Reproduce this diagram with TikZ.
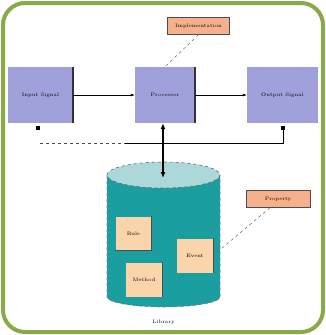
\documentclass[tikz,border=0pt]{standalone}
\usetikzlibrary{arrows.meta}
\definecolor{frame}{RGB}{138,170,72}
\definecolor{lav}{RGB}{160,160,218}
\definecolor{salmon}{RGB}{246,176,140}
\definecolor{teal1}{RGB}{26,158,160}
\definecolor{tealtop}{RGB}{172,216,218}
\definecolor{peach}{RGB}{250,212,170}
\tikzset{
  blockbox/.style={draw=none,fill=lav,minimum width=64pt,minimum height=56pt,font=\tiny,inner sep=1pt},
  note/.style={draw=black!70,fill=salmon,minimum width=62pt,minimum height=17pt,font=\tiny,inner sep=1pt},
  item/.style={draw=none,fill=peach,minimum width=36pt,minimum height=34pt,font=\tiny,inner sep=1pt},
  conn/.style={draw=black,line width=0.6pt,-{Latex[length=4pt]}},
  dashln/.style={draw=black!60,dashed,line width=0.5pt}
}
\begin{document}
\begin{tikzpicture}[x=1pt,y=-1pt]
\useasboundingbox (0,0) rectangle (326,335);
\fill[white] (0,0) rectangle (326,335);
\draw[frame,line width=4pt,rounded corners=22pt] (3,3) rectangle (323,332);
% blocks
\node[blockbox,minimum width=65pt] (in) at (40.5,95) {Input Signal};
\node[blockbox,minimum width=60pt] (proc) at (165,95) {Processor};
\node[blockbox,minimum width=71pt] (out) at (282.5,95) {Output Signal};
\draw[black!80,line width=1.5pt] (in.north east) -- (in.south east);
\draw[black!80,line width=1.5pt] (proc.north east) -- (proc.south east);
% annotation top
\node[note] (impl) at (198.5,26) {Implementation};
\draw[dashln] (impl.south) -- (proc.north);
% arrows
\draw[conn] (in.east) -- (proc.west);
\draw[conn] (proc.east) -- (out.west);
% markers and bus
\coordinate (lm) at (38,128);
\coordinate (rm) at (283,128);
\coordinate (bl) at (40,143);
\coordinate (br) at (283,143);
\fill (lm) ++(-2,-2) rectangle ++(4,4);
\fill (rm) ++(-2,-2) rectangle ++(4,4);
\draw[black!70,dashed,line width=0.8pt] (bl) -- (125,143);
\draw[black,line width=0.8pt] (125,143) -- (br) -- (rm);
% cylinder
\fill[teal1] (107,175) -- (107,297) arc[start angle=180,end angle=0,x radius=56.5,y radius=10] -- (220,175) -- cycle;
\draw[black!50,dashed,line width=0.6pt] (107,175) -- (107,297) arc[start angle=180,end angle=0,x radius=56.5,y radius=10] -- (220,175);
\fill[tealtop] (163.5,175) ellipse[x radius=56.5,y radius=13];
\draw[black!60,dashed,line width=0.6pt] (163.5,175) ellipse[x radius=56.5,y radius=13];
\coordinate (dbtop) at (163,178);
% vertical connector
\draw[black,line width=1.3pt,{Latex[length=6pt,width=5pt]}-{Latex[length=6pt,width=5pt]}] (proc.south -| dbtop) -- (dbtop);
% items
\node[item] (rule) at (133.5,233.5) {Rule};
\node[item] (method) at (144,279.5) {Method};
\node[item] (event) at (195,255.5) {Event};
\draw[black!70,line width=1pt] (rule.north east) -- (rule.south east) -- (rule.south west);
\draw[black!70,line width=1pt] (method.north east) -- (method.south east);
\draw[black!70,line width=1pt] (event.north east) -- (event.south east);
% right annotation
\node[note,minimum width=64pt] (prop) at (278,199) {Property};
\draw[dashln] ([xshift=-8pt]prop.south) -- (event.east);
% label
\node[font=\tiny] (lib) at (163.5,322) {Library};
\end{tikzpicture}
\end{document}
